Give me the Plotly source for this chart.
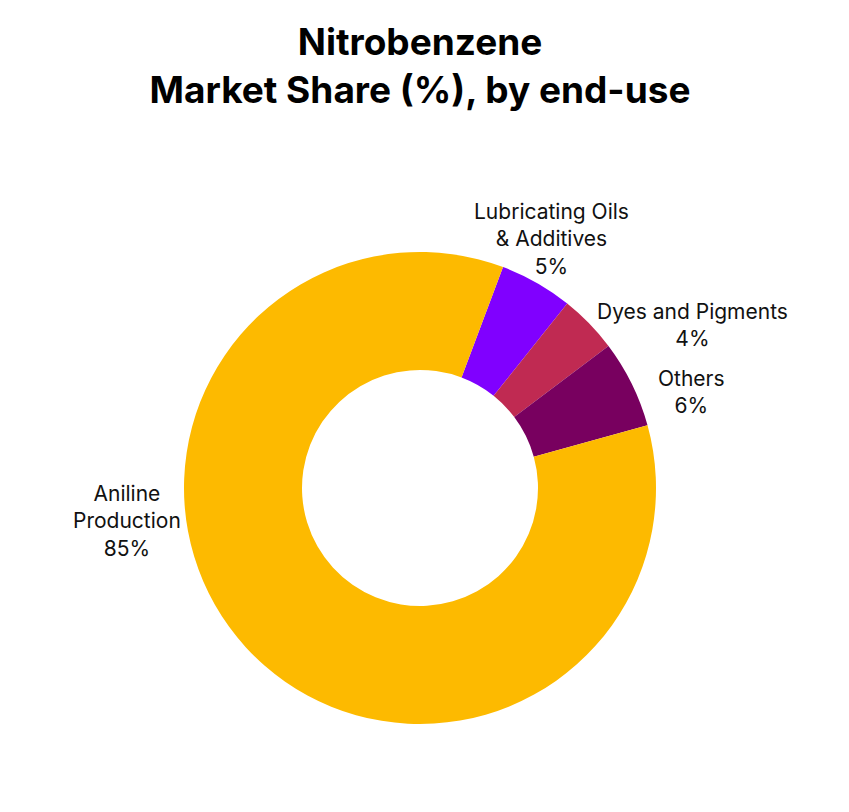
import plotly.graph_objects as go

# end-use segments, clockwise from the top
segments = ["Lubricating Oils<br>& Additives", "Dyes and Pigments", "Others", "Aniline<br>Production"]
shares = [5, 4, 6, 85]
seg_colors = ["#8000FF", "#C02A52", "#78005F", "#FDBA00"]

# label anchor points (paper coords) for each segment
label_pos = [(0.6396, 0.7155), (0.8068, 0.6096), (0.8045, 0.5271), (0.1402, 0.3682)]

fig = go.Figure(go.Pie(
    labels=segments,
    values=shares,
    marker=dict(colors=seg_colors, line=dict(width=0)),
    hole=0.5,
    sort=False,
    direction="clockwise",
    rotation=20.6,
    textinfo="none",
    hoverinfo="label+percent",
    showlegend=False,
    domain=dict(x=[176 / 849, 648 / 849], y=[96 / 812, 568 / 812]),
))

total = sum(shares)
for name, val, (px_, py_) in zip(segments, shares, label_pos):
    fig.add_annotation(
        x=px_, y=py_, xref="paper", yref="paper",
        xanchor="center", yanchor="middle",
        text=f"{name}<br>{round(val / total * 100)}%",
        showarrow=False, align="center",
        font=dict(family="Inter", size=21, color="#111111"),
    )

fig.update_layout(
    width=849, height=812,
    margin=dict(l=0, r=0, t=0, b=0),
    paper_bgcolor="white", plot_bgcolor="white",
    title=dict(
        text="<b>Nitrobenzene</b><br><b>Market Share (%), by end-use</b>",
        x=0.4853, xanchor="center", y=1 - 47 / 812, yanchor="top",
        font=dict(family="Inter", size=37, color="black"),
    ),
)

fig.write_html("out.html")
